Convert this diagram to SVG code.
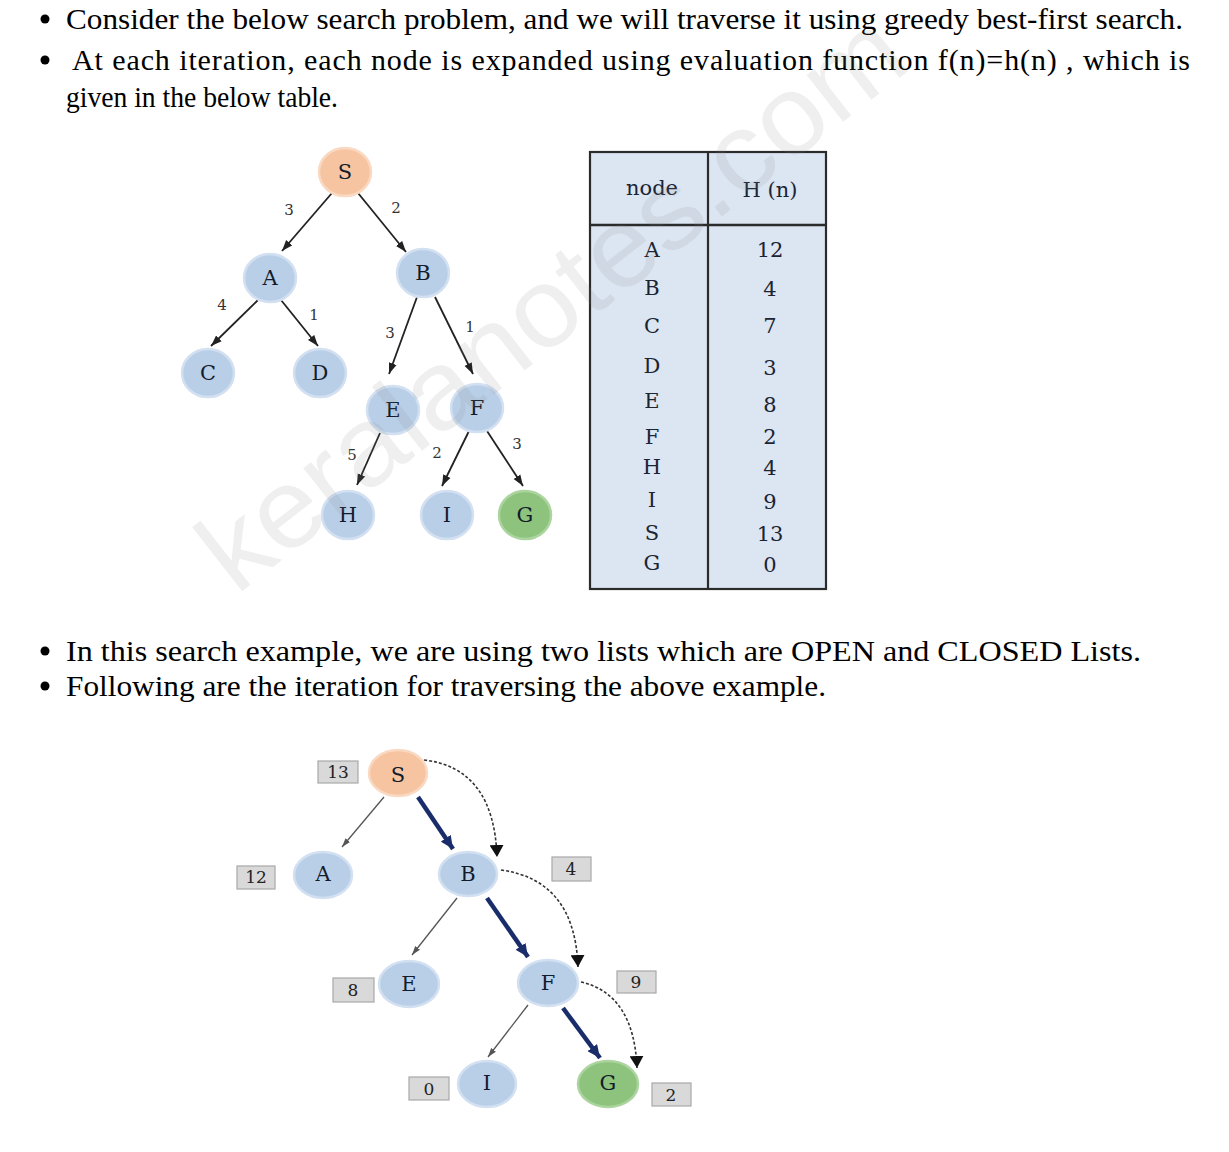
<svg xmlns="http://www.w3.org/2000/svg" width="1229" height="1152" viewBox="0 0 1229 1152">
<style>
.body{font-family:"Liberation Serif","Times New Roman",serif;font-size:30px;fill:#000}
.nlab{font-family:"DejaVu Serif",serif;font-size:21px;fill:#141c2b;text-anchor:middle;dominant-baseline:central}
.elab{font-family:"DejaVu Serif",serif;font-size:15px;fill:#333;text-anchor:middle;dominant-baseline:central}
.tab{font-family:"DejaVu Serif",serif;font-size:21px;fill:#1b2433;text-anchor:middle;dominant-baseline:central}
.blue{fill:#b9cfe7;stroke:#d2e0f1;stroke-width:2.5}
.orange{fill:#f6c4a1;stroke:#fad9c3;stroke-width:2.5}
.green{fill:#8dc37d;stroke:#abd49e;stroke-width:2.5}
.tedge{stroke:#222;stroke-width:1.8;fill:none}
.thin{stroke:#555;stroke-width:1.3;fill:none}
.thick{stroke:#1a2d6b;stroke-width:4.5;fill:none}
.dash{stroke:#333;stroke-width:1.6;fill:none;stroke-dasharray:3 2}
.hbox{fill:#d9d9d9;stroke:#a8a8a8;stroke-width:1.2}
.hval{font-family:"DejaVu Serif",serif;font-size:17px;fill:#222;text-anchor:middle;dominant-baseline:central}
</style>
<defs>
<marker id="aTop" markerUnits="userSpaceOnUse" markerWidth="12" markerHeight="10" refX="11" refY="5" orient="auto"><path d="M0,1 L11,5 L0,9 z" fill="#222"/></marker>
<marker id="aThin" markerUnits="userSpaceOnUse" markerWidth="10" markerHeight="8" refX="9" refY="4" orient="auto"><path d="M0,1 L9,4 L0,7 z" fill="#555"/></marker>
<marker id="aThick" markerUnits="userSpaceOnUse" markerWidth="14" markerHeight="12" refX="13" refY="6" orient="auto"><path d="M0,0 L13,6 L0,12 z" fill="#1a2d6b"/></marker>
<marker id="aDash" markerUnits="userSpaceOnUse" markerWidth="14" markerHeight="14" refX="12" refY="7" orient="auto"><path d="M0,0 L12,7 L0,14 z" fill="#111"/></marker>
</defs>
<rect width="1229" height="1152" fill="#fff"/>

<!-- text -->
<g id="text-top">
<circle cx="45" cy="19" r="4.5" fill="#000"/>
<text class="body" x="66" y="29" textLength="1117" lengthAdjust="spacingAndGlyphs">Consider the below search problem, and we will traverse it using greedy best-first search.</text>
<circle cx="45" cy="60" r="4.5" fill="#000"/>
<text class="body" x="72" y="70" textLength="1118" lengthAdjust="spacing">At each iteration, each node is expanded using evaluation function f(n)=h(n) , which is</text>
<text class="body" x="66" y="107" textLength="272" lengthAdjust="spacingAndGlyphs">given in the below table.</text>
</g>
<g id="text-mid">
<circle cx="45" cy="651" r="4.5" fill="#000"/>
<text class="body" x="66" y="661" textLength="1075" lengthAdjust="spacingAndGlyphs">In this search example, we are using two lists which are OPEN and CLOSED Lists.</text>
<circle cx="45" cy="686" r="4.5" fill="#000"/>
<text class="body" x="66" y="696" textLength="760" lengthAdjust="spacingAndGlyphs">Following are the iteration for traversing the above example.</text>
</g>

<!-- top tree connectors -->
<g id="top-connectors">
<line class="tedge" x1="332" y1="193" x2="282" y2="251" marker-end="url(#aTop)"/>
<line class="tedge" x1="358" y1="193" x2="406" y2="252" marker-end="url(#aTop)"/>
<line class="tedge" x1="258" y1="300" x2="211" y2="346" marker-end="url(#aTop)"/>
<line class="tedge" x1="281" y1="300" x2="318" y2="346" marker-end="url(#aTop)"/>
<line class="tedge" x1="417" y1="297" x2="389" y2="374" marker-end="url(#aTop)"/>
<line class="tedge" x1="435" y1="297" x2="473" y2="374" marker-end="url(#aTop)"/>
<line class="tedge" x1="380" y1="433" x2="357" y2="485" marker-end="url(#aTop)"/>
<line class="tedge" x1="469" y1="431" x2="442" y2="486" marker-end="url(#aTop)"/>
<line class="tedge" x1="487" y1="431" x2="523" y2="486" marker-end="url(#aTop)"/>
<text class="elab" x="289" y="210">3</text>
<text class="elab" x="396" y="208">2</text>
<text class="elab" x="222" y="305">4</text>
<text class="elab" x="314" y="315">1</text>
<text class="elab" x="390" y="333">3</text>
<text class="elab" x="470" y="327">1</text>
<text class="elab" x="352" y="455">5</text>
<text class="elab" x="437" y="453">2</text>
<text class="elab" x="517" y="444">3</text>
</g>

<!-- top tree nodes -->
<g id="t-S"><ellipse class="orange" cx="345" cy="172" rx="26" ry="24"/><text class="nlab" x="345" y="172">S</text></g>
<g id="t-A"><ellipse class="blue" cx="270" cy="278" rx="26" ry="24"/><text class="nlab" x="270" y="278">A</text></g>
<g id="t-B"><ellipse class="blue" cx="423" cy="273" rx="26" ry="24"/><text class="nlab" x="423" y="273">B</text></g>
<g id="t-C"><ellipse class="blue" cx="208" cy="373" rx="26" ry="24"/><text class="nlab" x="208" y="373">C</text></g>
<g id="t-D"><ellipse class="blue" cx="320" cy="373" rx="26" ry="24"/><text class="nlab" x="320" y="373">D</text></g>
<g id="t-E"><ellipse class="blue" cx="393" cy="410" rx="26" ry="24"/><text class="nlab" x="393" y="410">E</text></g>
<g id="t-F"><ellipse class="blue" cx="477" cy="408" rx="26" ry="24"/><text class="nlab" x="477" y="408">F</text></g>
<g id="t-H"><ellipse class="blue" cx="348" cy="515" rx="26" ry="24"/><text class="nlab" x="348" y="515">H</text></g>
<g id="t-I"><ellipse class="blue" cx="447" cy="515" rx="26" ry="24"/><text class="nlab" x="447" y="515">I</text></g>
<g id="t-G"><ellipse class="green" cx="525" cy="515" rx="26" ry="24"/><text class="nlab" x="525" y="515">G</text></g>

<!-- table -->
<g id="table">
<rect x="590" y="152" width="236" height="437" fill="#dce5f2" stroke="#2b2b2b" stroke-width="2.2"/>
<line x1="708" y1="152" x2="708" y2="589" stroke="#2b2b2b" stroke-width="2.2"/>
<line x1="590" y1="225" x2="826" y2="225" stroke="#2b2b2b" stroke-width="2.4"/>
<text class="tab" x="652" y="188">node</text>
<text class="tab" x="770" y="190">H (n)</text>
<text class="tab" x="652" y="250">A</text><text class="tab" x="770" y="250">12</text>
<text class="tab" x="652" y="288">B</text><text class="tab" x="770" y="289">4</text>
<text class="tab" x="652" y="326">C</text><text class="tab" x="770" y="326">7</text>
<text class="tab" x="652" y="366">D</text><text class="tab" x="770" y="368">3</text>
<text class="tab" x="652" y="401">E</text><text class="tab" x="770" y="405">8</text>
<text class="tab" x="652" y="437">F</text><text class="tab" x="770" y="437">2</text>
<text class="tab" x="652" y="467">H</text><text class="tab" x="770" y="468">4</text>
<text class="tab" x="652" y="500">I</text><text class="tab" x="770" y="502">9</text>
<text class="tab" x="652" y="533">S</text><text class="tab" x="770" y="534">13</text>
<text class="tab" x="652" y="563">G</text><text class="tab" x="770" y="565">0</text>
</g>

<!-- bottom tree connectors -->
<g id="bottom-connectors">
<line class="thin" x1="384" y1="797" x2="342" y2="847" marker-end="url(#aThin)"/>
<line class="thick" x1="418" y1="797" x2="453" y2="849" marker-end="url(#aThick)"/>
<path class="dash" d="M424,760 Q494,768 497,857" marker-end="url(#aDash)"/>
<line class="thin" x1="457" y1="898" x2="412" y2="955" marker-end="url(#aThin)"/>
<line class="thick" x1="487" y1="898" x2="528" y2="957" marker-end="url(#aThick)"/>
<path class="dash" d="M501,870 Q575,880 578,967" marker-end="url(#aDash)"/>
<line class="thin" x1="528" y1="1005" x2="488" y2="1057" marker-end="url(#aThin)"/>
<line class="thick" x1="563" y1="1008" x2="600" y2="1058" marker-end="url(#aThick)"/>
<path class="dash" d="M581,982 Q634,994 637,1068" marker-end="url(#aDash)"/>
</g>

<!-- bottom tree nodes -->
<g id="b-S"><rect class="hbox" x="318" y="761" width="40" height="22"/><text class="hval" x="338" y="772">13</text><ellipse class="orange" cx="398" cy="773" rx="29" ry="23"/><text class="nlab" x="398" y="775">S</text></g>
<g id="b-A"><rect class="hbox" x="237" y="866" width="38" height="23"/><text class="hval" x="256" y="877">12</text><ellipse class="blue" cx="323" cy="875" rx="29" ry="23"/><text class="nlab" x="323" y="874">A</text></g>
<g id="b-B"><rect class="hbox" x="552" y="857" width="39" height="24"/><text class="hval" x="571" y="869">4</text><ellipse class="blue" cx="468" cy="874" rx="29" ry="22"/><text class="nlab" x="468" y="874">B</text></g>
<g id="b-E"><rect class="hbox" x="333" y="978" width="41" height="24"/><text class="hval" x="353" y="990">8</text><ellipse class="blue" cx="409" cy="984" rx="30" ry="23"/><text class="nlab" x="409" y="984">E</text></g>
<g id="b-F"><rect class="hbox" x="617" y="971" width="39" height="22"/><text class="hval" x="636" y="982">9</text><ellipse class="blue" cx="548" cy="983" rx="30" ry="23"/><text class="nlab" x="548" y="983">F</text></g>
<g id="b-I"><rect class="hbox" x="409" y="1077" width="40" height="23"/><text class="hval" x="429" y="1089">0</text><ellipse class="blue" cx="487" cy="1084" rx="29" ry="23"/><text class="nlab" x="487" y="1083">I</text></g>
<g id="b-G"><rect class="hbox" x="652" y="1083" width="39" height="23"/><text class="hval" x="671" y="1095">2</text><ellipse class="green" cx="608" cy="1084" rx="30" ry="23"/><text class="nlab" x="608" y="1083">G</text></g>

<!-- watermark -->
<text x="236" y="596" transform="rotate(-38 236 596)" font-family="Liberation Sans, Arial, sans-serif" font-size="112" fill="#808080" fill-opacity="0.13" textLength="860" lengthAdjust="spacingAndGlyphs">keralanotes.com</text>
</svg>
